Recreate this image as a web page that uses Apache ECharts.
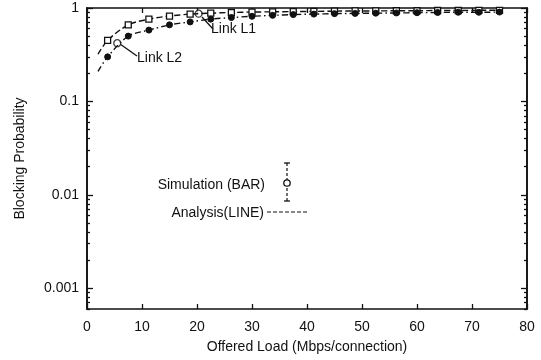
<!DOCTYPE html>
<html><head><meta charset="utf-8">
<script src="https://cdn.jsdelivr.net/npm/echarts@6/dist/echarts.min.js"></script>
<style>html,body{margin:0;padding:0;background:#fff}#c{width:541px;height:360px}</style>
</head><body><div id="c"></div>
<script>
// ---- data ----
const loads = [2, 3.75, 7.5, 11.25, 15, 18.75, 22.5, 26.25, 30, 33.75, 37.5, 41.25, 45, 48.75, 52.5, 56.25, 60, 63.75, 67.5, 71.25, 75];
const linkL1 = [0.32, 0.45, 0.66, 0.76, 0.82, 0.86, 0.88, 0.895, 0.905, 0.91, 0.915, 0.92, 0.925, 0.93, 0.93, 0.935, 0.935, 0.94, 0.94, 0.945, 0.945];
const linkL2 = [0.21, 0.30, 0.50, 0.58, 0.66, 0.71, 0.76, 0.79, 0.815, 0.835, 0.85, 0.86, 0.87, 0.875, 0.88, 0.885, 0.89, 0.895, 0.9, 0.9, 0.905];
const simX = [5.5, 20.3];
const simY = [0.42, 0.87];
const xTicks = [0, 10, 20, 30, 40, 50, 60, 70, 80];
const yMajor = [0.001, 0.01, 0.1, 1];
const yLabels = ['0.001', '0.01', '0.1', '1'];
const yMinor = [0.0006, 0.0007, 0.0008, 0.0009,
  0.002, 0.003, 0.004, 0.005, 0.006, 0.007, 0.008, 0.009,
  0.02, 0.03, 0.04, 0.05, 0.06, 0.07, 0.08, 0.09,
  0.2, 0.3, 0.4, 0.5, 0.6, 0.7, 0.8, 0.9];

const FONT = 'Liberation Sans';
const FS = 14;
const black = '#111';
const chart = echarts.init(document.getElementById('c'), null, {renderer: 'canvas'});

function yAxis(pos, ticks, len, labels) {
  return {
    type: 'log', min: 0.0006, max: 1, position: pos,
    axisLine: {show: true, lineStyle: {color: black, width: 1.6}},
    axisTick: {show: true, inside: true, length: len, customValues: ticks, lineStyle: {color: black, width: 1.3}},
    axisLabel: labels ? {show: true, customValues: yMajor, color: black, fontFamily: FONT, fontSize: FS, margin: 8,
      formatter: v => { const i = yMajor.findIndex(m => Math.abs(Math.log10(m) - Math.log10(v)) < 1e-6); return i >= 0 ? yLabels[i] : ''; }} : {show: false},
    splitLine: {show: false},
    name: labels ? 'Blocking Probability' : '', nameLocation: 'middle', nameGap: 60,
    nameTextStyle: {color: black, fontFamily: FONT, fontSize: FS}
  };
}
function xAxis(pos, labels) {
  return {
    type: 'value', min: 0, max: 80, interval: 10, position: pos,
    axisLine: {show: true, lineStyle: {color: black, width: 1.6}},
    axisTick: {show: true, inside: true, length: 5, lineStyle: {color: black, width: 1.3}},
    axisLabel: labels ? {show: true, color: black, fontFamily: FONT, fontSize: FS, margin: 11} : {show: false},
    splitLine: {show: false},
    name: labels ? 'Offered Load (Mbps/connection)' : '', nameLocation: 'middle', nameGap: 31,
    nameTextStyle: {color: black, fontFamily: FONT, fontSize: FS}
  };
}

const l1Data = loads.map((x, i) => ({value: [x, linkL1[i]], symbol: i === 0 ? 'none' : 'rect'}));
const l2Data = loads.map((x, i) => ({value: [x, linkL2[i]], symbol: i === 0 ? 'none' : 'circle'}));

chart.setOption({
  animation: false,
  backgroundColor: '#fff',
  grid: {left: 87, right: 14, top: 8, bottom: 51},
  xAxis: [xAxis('bottom', true), xAxis('top', false)],
  yAxis: [yAxis('left', yMajor, 6, true), yAxis('left', yMinor, 3, false), yAxis('right', yMajor, 6, false), yAxis('right', yMinor, 3, false)],
  series: [
    {type: 'line', data: l1Data, symbolSize: 6, smooth: 0.3,
      itemStyle: {color: '#fff', borderColor: black, borderWidth: 1.3},
      lineStyle: {color: black, width: 1.4, type: [6, 3]}},
    {type: 'line', data: l2Data, symbolSize: 6, smooth: 0.3,
      itemStyle: {color: black, borderColor: black, borderWidth: 1},
      lineStyle: {color: black, width: 1.4, type: [6, 3, 1.5, 3]}},
    {type: 'scatter', data: simX.map((x, i) => [x, simY[i]]), symbol: 'circle', symbolSize: 7,
      itemStyle: {color: '#fff', borderColor: black, borderWidth: 1.3}}
  ],
  graphic: [
    {type: 'text', x: 211, y: 29, style: {text: 'Link L1', fontFamily: FONT, fontSize: FS, fill: black, verticalAlign: 'middle'}},
    {type: 'line', shape: {x1: 213, y1: 29, x2: 202, y2: 17}, style: {stroke: black, lineWidth: 1.3}},
    {type: 'text', x: 137, y: 58, style: {text: 'Link L2', fontFamily: FONT, fontSize: FS, fill: black, verticalAlign: 'middle'}},
    {type: 'line', shape: {x1: 137, y1: 56, x2: 120, y2: 44}, style: {stroke: black, lineWidth: 1.3}},
    {type: 'text', x: 265, y: 185, style: {text: 'Simulation (BAR)', fontFamily: FONT, fontSize: FS, fill: black, align: 'right', verticalAlign: 'middle'}},
    {type: 'line', shape: {x1: 287, y1: 163, x2: 287, y2: 201}, style: {stroke: black, lineWidth: 1.2, lineDash: [3, 2]}},
    {type: 'line', shape: {x1: 284, y1: 163, x2: 290, y2: 163}, style: {stroke: black, lineWidth: 1.3}},
    {type: 'line', shape: {x1: 284, y1: 201, x2: 290, y2: 201}, style: {stroke: black, lineWidth: 1.3}},
    {type: 'circle', shape: {cx: 287, cy: 183, r: 3.2}, style: {fill: '#fff', stroke: black, lineWidth: 1.3}},
    {type: 'text', x: 264, y: 213, style: {text: 'Analysis(LINE)', fontFamily: FONT, fontSize: FS, fill: black, align: 'right', verticalAlign: 'middle'}},
    {type: 'line', shape: {x1: 267, y1: 212, x2: 307, y2: 212}, style: {stroke: black, lineWidth: 1, lineDash: [4, 2]}}
  ]
});
</script></body></html>
